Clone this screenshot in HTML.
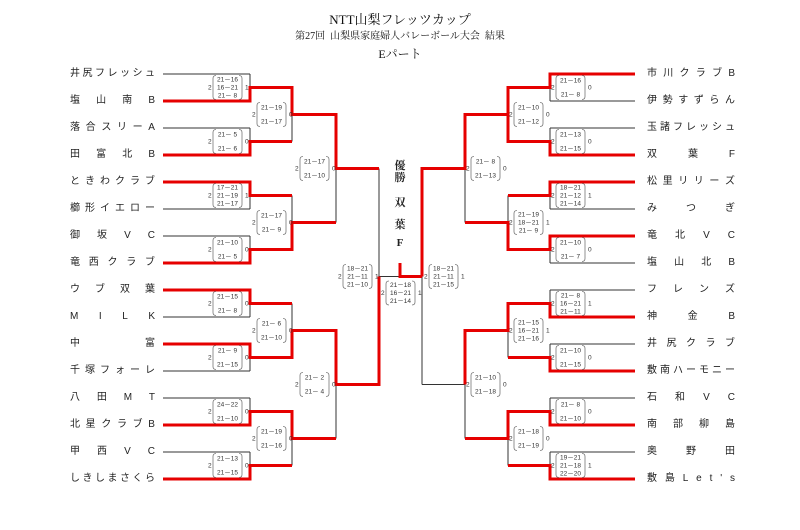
<!DOCTYPE html>
<html><head><meta charset="utf-8"><style>
body{margin:0;background:#fff;}
#w{position:relative;width:800px;height:530px;overflow:hidden;font-family:"Liberation Sans","Noto Sans CJK JP",sans-serif;color:#222;}
.t{position:absolute;left:0;width:800px;text-align:center;font-family:"Liberation Serif","Noto Serif CJK JP",serif;color:#111;}
.n{position:absolute;display:flex;justify-content:space-between;font-size:10px;line-height:12px;height:12px;color:#222;}
.L{left:70px;width:85px;}
.R{left:647px;width:88px;}
svg{position:absolute;left:0;top:0;}
.s{font-size:6.5px;text-anchor:middle;fill:#333;font-family:"Liberation Sans",sans-serif;}
.d{font-size:6.5px;fill:#333;font-family:"Liberation Sans",sans-serif;}
.c{position:absolute;left:392px;width:16px;text-align:center;font-size:11px;font-weight:bold;font-family:"Liberation Serif","Noto Serif CJK JP",serif;}
</style></head><body><div id="w">
<div class="t" style="top:9px;font-size:13px;">NTT山梨フレッツカップ</div>
<div class="t" style="top:27px;font-size:10px;">第27回&nbsp; 山梨県家庭婦人バレーボール大会&nbsp; 結果</div>
<div class="t" style="top:45px;font-size:12px;">Eパート</div>

<div class="n L" style="top:68px"><span>井</span><span>尻</span><span>フ</span><span>レ</span><span>ッ</span><span>シ</span><span>ュ</span></div>
<div class="n L" style="top:95px"><span>塩</span><span>山</span><span>南</span><span>B</span></div>
<div class="n L" style="top:122px"><span>落</span><span>合</span><span>ス</span><span>リ</span><span>ー</span><span>A</span></div>
<div class="n L" style="top:149px"><span>田</span><span>富</span><span>北</span><span>B</span></div>
<div class="n L" style="top:176px"><span>と</span><span>き</span><span>わ</span><span>ク</span><span>ラ</span><span>ブ</span></div>
<div class="n L" style="top:203px"><span>櫛</span><span>形</span><span>イ</span><span>エ</span><span>ロ</span><span>ー</span></div>
<div class="n L" style="top:230px"><span>御</span><span>坂</span><span>V</span><span>C</span></div>
<div class="n L" style="top:257px"><span>竜</span><span>西</span><span>ク</span><span>ラ</span><span>ブ</span></div>
<div class="n L" style="top:284px"><span>ウ</span><span>ブ</span><span>双</span><span>葉</span></div>
<div class="n L" style="top:311px"><span>M</span><span>I</span><span>L</span><span>K</span></div>
<div class="n L" style="top:338px"><span>中</span><span>富</span></div>
<div class="n L" style="top:365px"><span>千</span><span>塚</span><span>フ</span><span>ォ</span><span>ー</span><span>レ</span></div>
<div class="n L" style="top:392px"><span>八</span><span>田</span><span>M</span><span>T</span></div>
<div class="n L" style="top:419px"><span>北</span><span>星</span><span>ク</span><span>ラ</span><span>ブ</span><span>B</span></div>
<div class="n L" style="top:446px"><span>甲</span><span>西</span><span>V</span><span>C</span></div>
<div class="n L" style="top:473px"><span>し</span><span>き</span><span>し</span><span>ま</span><span>さ</span><span>く</span><span>ら</span></div>

<div class="n R" style="top:68px"><span>市</span><span>川</span><span>ク</span><span>ラ</span><span>ブ</span><span>B</span></div>
<div class="n R" style="top:95px"><span>伊</span><span>勢</span><span>す</span><span>ず</span><span>ら</span><span>ん</span></div>
<div class="n R" style="top:122px"><span>玉</span><span>諸</span><span>フ</span><span>レ</span><span>ッ</span><span>シ</span><span>ュ</span></div>
<div class="n R" style="top:149px"><span>双</span><span>葉</span><span>F</span></div>
<div class="n R" style="top:176px"><span>松</span><span>里</span><span>リ</span><span>リ</span><span>ー</span><span>ズ</span></div>
<div class="n R" style="top:203px"><span>み</span><span>つ</span><span>ぎ</span></div>
<div class="n R" style="top:230px"><span>竜</span><span>北</span><span>V</span><span>C</span></div>
<div class="n R" style="top:257px"><span>塩</span><span>山</span><span>北</span><span>B</span></div>
<div class="n R" style="top:284px"><span>フ</span><span>レ</span><span>ン</span><span>ズ</span></div>
<div class="n R" style="top:311px"><span>神</span><span>金</span><span>B</span></div>
<div class="n R" style="top:338px"><span>井</span><span>尻</span><span>ク</span><span>ラ</span><span>ブ</span></div>
<div class="n R" style="top:365px"><span>敷</span><span>南</span><span>ハ</span><span>ー</span><span>モ</span><span>ニ</span><span>ー</span></div>
<div class="n R" style="top:392px"><span>石</span><span>和</span><span>V</span><span>C</span></div>
<div class="n R" style="top:419px"><span>南</span><span>部</span><span>柳</span><span>島</span></div>
<div class="n R" style="top:446px"><span>奥</span><span>野</span><span>田</span></div>
<div class="n R" style="top:473px"><span>敷</span><span>島</span><span>L</span><span>e</span><span>t</span><span>'</span><span>s</span></div>

<div class="c" style="top:157px">優</div>
<div class="c" style="top:169px">勝</div>
<div class="c" style="top:194px">双</div>
<div class="c" style="top:216px">葉</div>
<div class="c" style="top:237px">F</div>

<svg width="800" height="530" viewBox="0 0 800 530">
<defs>
<g id="pp" fill="none" stroke="#777" stroke-width="0.8"><path d="M3,-12 Q0,-12 0,-9 V9 Q0,12 3,12"/><path d="M26,-12 Q29,-12 29,-9 V9 Q29,12 26,12"/></g>
</defs>
<g stroke="#333" stroke-width="1" fill="none">
<path d="M163,74H250M163,101H250M163,128H250M163,155H250M163,182H250M163,209H250M163,236H250M163,263H250M163,290H250M163,317H250M163,344H250M163,371H250M163,398H250M163,425H250M163,452H250M163,479H250"/>
<path d="M250,74V101M250,128V155M250,182V209M250,236V263M250,290V317M250,344V371M250,398V425M250,452V479"/>
<path d="M250,87.5H292M250,141.5H292M250,195.5H292M250,249.5H292M250,303.5H292M250,357.5H292M250,411.5H292M250,465.5H292"/>
<path d="M292,87.5V141.5M292,195.5V249.5M292,303.5V357.5M292,411.5V465.5"/>
<path d="M292,114.5H336M292,222.5H336M292,330.5H336M292,438.5H336M336,114.5V222.5M336,330.5V438.5M336,168.5H379M336,384.5H379M379,168.5V384.5M379,276.5H422"/>
<path d="M635,74H550M635,101H550M635,128H550M635,155H550M635,182H550M635,209H550M635,236H550M635,263H550M635,290H550M635,317H550M635,344H550M635,371H550M635,398H550M635,425H550M635,452H550M635,479H550"/>
<path d="M550,74V101M550,128V155M550,182V209M550,236V263M550,290V317M550,344V371M550,398V425M550,452V479"/>
<path d="M550,87.5H508M550,141.5H508M550,195.5H508M550,249.5H508M550,303.5H508M550,357.5H508M550,411.5H508M550,465.5H508"/>
<path d="M508,87.5V141.5M508,195.5V249.5M508,303.5V357.5M508,411.5V465.5"/>
<path d="M508,114.5H465M508,222.5H465M508,330.5H465M508,438.5H465M465,114.5V222.5M465,330.5V438.5M465,168.5H422M465,384.5H422M422,168.5V384.5"/>
</g>
<g stroke="#e60000" stroke-width="3" fill="none" stroke-linejoin="miter">
<path d="M163,101H250V87.5H292V114.5H336V168.5H379"/>
<path d="M163,155H250V141.5H292"/>
<path d="M163,182H250V195.5H292"/>
<path d="M163,263H250V249.5H292V222.5H336"/>
<path d="M163,290H250V303.5H292"/>
<path d="M163,344H250V357.5H292V330.5H336V384.5H379V276.5"/>
<path d="M163,425H250V411.5H292V438.5H336"/>
<path d="M163,479H250V465.5H292"/>
<path d="M400,263V276.5H422"/>
<path d="M635,74H550V87.5H508V114.5"/>
<path d="M635,155H550V141.5H508V114.5H465V168.5H422V276.5"/>
<path d="M635,182H550V195.5H508"/>
<path d="M635,236H550V249.5H508V222.5H465"/>
<path d="M635,317H550V303.5H508V330.5H465V384.5"/>
<path d="M635,371H550V357.5H508"/>
<path d="M635,425H550V411.5H508V438.5H465"/>
<path d="M635,479H550V465.5H508"/>
</g>

<!-- Left R1 -->
<g transform="translate(213,87.5)"><use href="#pp"/><text class="d" x="-5" y="2">2</text><text class="d" x="32" y="2">1</text><text class="s" x="14.5" y="-6">21－16</text><text class="s" x="14.5" y="2">16－21</text><text class="s" x="14.5" y="10">21－ 8</text></g>
<g transform="translate(213,141.5)"><use href="#pp"/><text class="d" x="-5" y="2">2</text><text class="d" x="32" y="2">0</text><text class="s" x="14.5" y="-5">21－ 5</text><text class="s" x="14.5" y="9">21－ 6</text></g>
<g transform="translate(213,195.5)"><use href="#pp"/><text class="d" x="-5" y="2">2</text><text class="d" x="32" y="2">1</text><text class="s" x="14.5" y="-6">17－21</text><text class="s" x="14.5" y="2">21－19</text><text class="s" x="14.5" y="10">21－17</text></g>
<g transform="translate(213,249.5)"><use href="#pp"/><text class="d" x="-5" y="2">2</text><text class="d" x="32" y="2">0</text><text class="s" x="14.5" y="-5">21－10</text><text class="s" x="14.5" y="9">21－ 5</text></g>
<g transform="translate(213,303.5)"><use href="#pp"/><text class="d" x="-5" y="2">2</text><text class="d" x="32" y="2">0</text><text class="s" x="14.5" y="-5">21－15</text><text class="s" x="14.5" y="9">21－ 8</text></g>
<g transform="translate(213,357.5)"><use href="#pp"/><text class="d" x="-5" y="2">2</text><text class="d" x="32" y="2">0</text><text class="s" x="14.5" y="-5">21－ 9</text><text class="s" x="14.5" y="9">21－15</text></g>
<g transform="translate(213,411.5)"><use href="#pp"/><text class="d" x="-5" y="2">2</text><text class="d" x="32" y="2">0</text><text class="s" x="14.5" y="-5">24－22</text><text class="s" x="14.5" y="9">21－10</text></g>
<g transform="translate(213,465.5)"><use href="#pp"/><text class="d" x="-5" y="2">2</text><text class="d" x="32" y="2">0</text><text class="s" x="14.5" y="-5">21－13</text><text class="s" x="14.5" y="9">21－15</text></g>
<!-- Left R2 -->
<g transform="translate(257,114.5)"><use href="#pp"/><text class="d" x="-5" y="2">2</text><text class="d" x="32" y="2">0</text><text class="s" x="14.5" y="-5">21－19</text><text class="s" x="14.5" y="9">21－17</text></g>
<g transform="translate(257,222.5)"><use href="#pp"/><text class="d" x="-5" y="2">2</text><text class="d" x="32" y="2">0</text><text class="s" x="14.5" y="-5">21－17</text><text class="s" x="14.5" y="9">21－ 9</text></g>
<g transform="translate(257,330.5)"><use href="#pp"/><text class="d" x="-5" y="2">2</text><text class="d" x="32" y="2">0</text><text class="s" x="14.5" y="-5">21－ 6</text><text class="s" x="14.5" y="9">21－10</text></g>
<g transform="translate(257,438.5)"><use href="#pp"/><text class="d" x="-5" y="2">2</text><text class="d" x="32" y="2">0</text><text class="s" x="14.5" y="-5">21－19</text><text class="s" x="14.5" y="9">21－16</text></g>
<!-- Left R3 -->
<g transform="translate(300,168.5)"><use href="#pp"/><text class="d" x="-5" y="2">2</text><text class="d" x="32" y="2">0</text><text class="s" x="14.5" y="-5">21－17</text><text class="s" x="14.5" y="9">21－10</text></g>
<g transform="translate(300,384.5)"><use href="#pp"/><text class="d" x="-5" y="2">2</text><text class="d" x="32" y="2">0</text><text class="s" x="14.5" y="-5">21－ 2</text><text class="s" x="14.5" y="9">21－ 4</text></g>
<!-- SF / Final -->
<g transform="translate(343,276.5)"><use href="#pp"/><text class="d" x="-5" y="2">2</text><text class="d" x="32" y="2">1</text><text class="s" x="14.5" y="-6">18－21</text><text class="s" x="14.5" y="2">21－11</text><text class="s" x="14.5" y="10">21－10</text></g>
<g transform="translate(386,293)"><use href="#pp"/><text class="d" x="-5" y="2">2</text><text class="d" x="32" y="2">1</text><text class="s" x="14.5" y="-6">21－18</text><text class="s" x="14.5" y="2">16－21</text><text class="s" x="14.5" y="10">21－14</text></g>
<g transform="translate(429,276.5)"><use href="#pp"/><text class="d" x="-5" y="2">2</text><text class="d" x="32" y="2">1</text><text class="s" x="14.5" y="-6">18－21</text><text class="s" x="14.5" y="2">21－11</text><text class="s" x="14.5" y="10">21－15</text></g>
<!-- Right R3 -->
<g transform="translate(471,168.5)"><use href="#pp"/><text class="d" x="-5" y="2">2</text><text class="d" x="32" y="2">0</text><text class="s" x="14.5" y="-5">21－ 8</text><text class="s" x="14.5" y="9">21－13</text></g>
<g transform="translate(471,384.5)"><use href="#pp"/><text class="d" x="-5" y="2">2</text><text class="d" x="32" y="2">0</text><text class="s" x="14.5" y="-5">21－10</text><text class="s" x="14.5" y="9">21－18</text></g>
<!-- Right R2 -->
<g transform="translate(514,114.5)"><use href="#pp"/><text class="d" x="-5" y="2">2</text><text class="d" x="32" y="2">0</text><text class="s" x="14.5" y="-5">21－10</text><text class="s" x="14.5" y="9">21－12</text></g>
<g transform="translate(514,222.5)"><use href="#pp"/><text class="d" x="-5" y="2">2</text><text class="d" x="32" y="2">1</text><text class="s" x="14.5" y="-6">21－19</text><text class="s" x="14.5" y="2">18－21</text><text class="s" x="14.5" y="10">21－ 9</text></g>
<g transform="translate(514,330.5)"><use href="#pp"/><text class="d" x="-5" y="2">2</text><text class="d" x="32" y="2">1</text><text class="s" x="14.5" y="-6">21－15</text><text class="s" x="14.5" y="2">16－21</text><text class="s" x="14.5" y="10">21－16</text></g>
<g transform="translate(514,438.5)"><use href="#pp"/><text class="d" x="-5" y="2">2</text><text class="d" x="32" y="2">0</text><text class="s" x="14.5" y="-5">21－18</text><text class="s" x="14.5" y="9">21－19</text></g>
<!-- Right R1 -->
<g transform="translate(556,87.5)"><use href="#pp"/><text class="d" x="-5" y="2">2</text><text class="d" x="32" y="2">0</text><text class="s" x="14.5" y="-5">21－16</text><text class="s" x="14.5" y="9">21－ 8</text></g>
<g transform="translate(556,141.5)"><use href="#pp"/><text class="d" x="-5" y="2">2</text><text class="d" x="32" y="2">0</text><text class="s" x="14.5" y="-5">21－13</text><text class="s" x="14.5" y="9">21－15</text></g>
<g transform="translate(556,195.5)"><use href="#pp"/><text class="d" x="-5" y="2">2</text><text class="d" x="32" y="2">1</text><text class="s" x="14.5" y="-6">18－21</text><text class="s" x="14.5" y="2">21－12</text><text class="s" x="14.5" y="10">21－14</text></g>
<g transform="translate(556,249.5)"><use href="#pp"/><text class="d" x="-5" y="2">2</text><text class="d" x="32" y="2">0</text><text class="s" x="14.5" y="-5">21－10</text><text class="s" x="14.5" y="9">21－ 7</text></g>
<g transform="translate(556,303.5)"><use href="#pp"/><text class="d" x="-5" y="2">2</text><text class="d" x="32" y="2">1</text><text class="s" x="14.5" y="-6">21－ 8</text><text class="s" x="14.5" y="2">16－21</text><text class="s" x="14.5" y="10">21－11</text></g>
<g transform="translate(556,357.5)"><use href="#pp"/><text class="d" x="-5" y="2">2</text><text class="d" x="32" y="2">0</text><text class="s" x="14.5" y="-5">21－10</text><text class="s" x="14.5" y="9">21－15</text></g>
<g transform="translate(556,411.5)"><use href="#pp"/><text class="d" x="-5" y="2">2</text><text class="d" x="32" y="2">0</text><text class="s" x="14.5" y="-5">21－ 8</text><text class="s" x="14.5" y="9">21－10</text></g>
<g transform="translate(556,465.5)"><use href="#pp"/><text class="d" x="-5" y="2">2</text><text class="d" x="32" y="2">1</text><text class="s" x="14.5" y="-6">19－21</text><text class="s" x="14.5" y="2">21－18</text><text class="s" x="14.5" y="10">22－20</text></g>
</svg>
</div></body></html>
